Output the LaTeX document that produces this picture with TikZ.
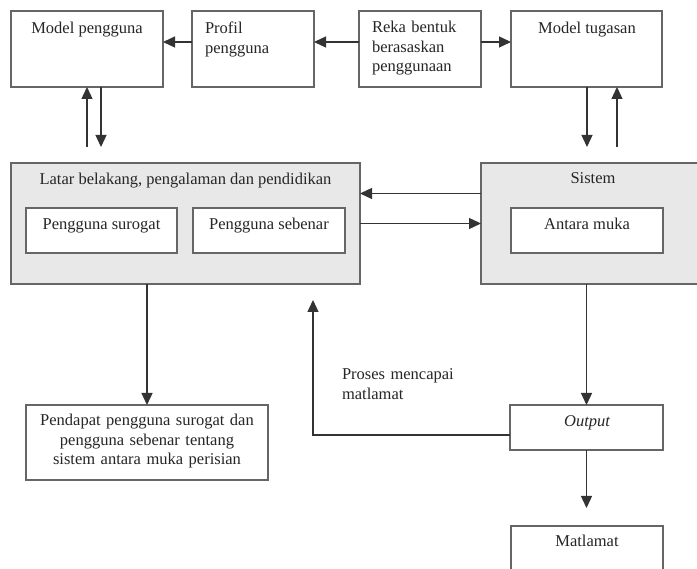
\documentclass[tikz,border=0pt]{standalone}
\usepackage{fontspec}
\setmainfont{Liberation Serif}
\usetikzlibrary{arrows.meta,calc}
\begin{document}
\begin{tikzpicture}[x=1pt,y=-1pt,
  box/.style={draw=black!60, line width=1.3pt, fill=white, anchor=north west, inner sep=0pt, outer sep=0pt},
  grp/.style={box, fill=black!9},
  txt/.style={anchor=base, inner sep=0pt, outer sep=0pt, font=\fontsize{16.5}{19.5}\selectfont, text=black!85},
  mtxt/.style={txt, anchor=base west, text width=#1, align=left},
  ctxt/.style={txt, anchor=base, text width=#1, align=center},
  arr/.style={draw=black!80, line width=1.3pt, -{Triangle[length=12pt,width=11pt]}},
  ln/.style={draw=black!80, line width=1.3pt}]
\useasboundingbox (0,0) rectangle (697,569);
\begin{scope}
\clip (0,0) rectangle (697,569);
% boxes
\node[box, minimum width=152, minimum height=76] (mp) at (11,11) {};
\node[box, minimum width=122, minimum height=76] (prof) at (192,11) {};
\node[box, minimum width=122, minimum height=76] (reka) at (359,11) {};
\node[box, minimum width=151, minimum height=76] (mt) at (511,11) {};
\node[grp, minimum width=349, minimum height=121] (latar) at (11,163) {};
\node[box, minimum width=151, minimum height=45] (ps) at (26,208) {};
\node[box, minimum width=152, minimum height=45] (pb) at (193,208) {};
\node[grp, minimum width=225, minimum height=121] (sis) at (481,163) {};
\node[box, minimum width=152, minimum height=45] (am) at (511,208) {};
\node[box, minimum width=242, minimum height=75] (pend) at (26,405) {};
\node[box, minimum width=153, minimum height=45] (out) at (510,405) {};
\node[box, minimum width=152, minimum height=80] (mat) at (511,526) {};
% texts
\node[txt] (mpt) at (87,34) {Model pengguna};
\node[mtxt=110pt] (proft) at (205,34) {Profil\\pengguna};
\node[mtxt=110pt] (rekat) at (372,33) {Reka bentuk\\berasaskan\\penggunaan};
\node[txt] (mtt) at (587,34) {Model tugasan};
\node[txt] (latt) at (185.5,185) {Latar belakang, pengalaman dan pendidikan};
\node[txt] (pst) at (101.5,230) {Pengguna surogat};
\node[txt] (pbt) at (269,230) {Pengguna sebenar};
\node[txt] (sist) at (593,184) {Sistem};
\node[txt] (amt) at (587,230) {Antara muka};
\node[ctxt=240pt] (pendt) at (147,426) {Pendapat pengguna surogat dan\\pengguna sebenar tentang\\sistem antara muka perisian};
\node[txt, font=\fontsize{16.5}{19.5}\selectfont\itshape] (outt) at (587,427) {Output};
\node[mtxt=150pt] (prt) at (342,380) {Proses mencapai\\matlamat};
\node[txt] (matt) at (587,547) {Matlamat};
% free ends
\coordinate (a1) at (87,147);
\coordinate (a2) at (101,147);
\coordinate (a3) at (587,147);
\coordinate (a4) at (617,147);
\coordinate (ret) at (313,300);
\coordinate (m1) at (586.5,508);
% connectors
\draw[arr] ($(prof.west)+(0,-7)$) -- ($(mp.east)+(0,-7)$);
\draw[arr] ($(reka.west)+(0,-7)$) -- ($(prof.east)+(0,-7)$);
\draw[arr] ($(reka.east)+(0,-7)$) -- ($(mt.west)+(0,-7)$);
\draw[arr] (a1) -- (a1 |- mp.south);
\draw[arr] (a2 |- mp.south) -- (a2);
\draw[arr] (a3 |- mt.south) -- (a3);
\draw[arr] (a4) -- (a4 |- mt.south);
\draw[arr] ($(sis.west)+(0,-30)$) -- ($(latar.east)+(0,-30)$);
\draw[arr] (latar.east) -- (sis.west);
\draw[arr] (latar.south -| pend.north) -- (pend.north);
\draw[arr] (sis.south -| out.north) -- (out.north);
\draw[arr] ($(out.west)+(0,7.5)$) -| (ret);
\draw[arr] (out.south) -- (m1);
\end{scope}
\end{tikzpicture}
\end{document}
